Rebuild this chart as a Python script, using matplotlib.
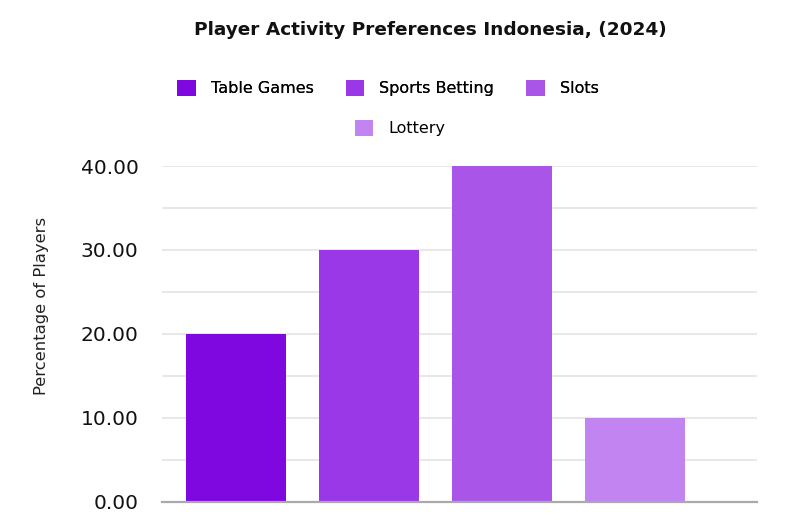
import matplotlib
matplotlib.use('Agg')
import matplotlib.pyplot as plt
from matplotlib.patches import Patch
from matplotlib.ticker import MultipleLocator, FormatStrFormatter

# data
categories = ['Table Games', 'Sports Betting', 'Slots', 'Lottery']
values = [20, 30, 40, 10]
colors = ['#7f08e0', '#9a37e7', '#a855e8', '#c184f1']

plt.rcParams['font.family'] = ['DejaVu Sans']

fig = plt.figure(figsize=(8, 5.23), dpi=100)
ax = fig.add_axes([0.2025, 0.0402, 0.744, 0.6424])

x = list(range(len(categories)))
ax.bar(x, values, width=0.75, color=colors, zorder=3)

ax.set_xlim(-0.556, 3.917)
ax.set_ylim(0, 40)
ax.yaxis.set_major_locator(MultipleLocator(10))
ax.yaxis.set_minor_locator(MultipleLocator(5))
ax.yaxis.set_major_formatter(FormatStrFormatter('%.2f'))
ax.grid(axis='y', which='both', color='#e8e8e8', linewidth=1.5, zorder=0)
ax.set_xticks([])
ax.tick_params(axis='y', which='both', length=0, pad=17, labelsize=14.5, labelcolor='#111111')

for s in ['top', 'right', 'left']:
    ax.spines[s].set_visible(False)
ax.spines['bottom'].set_color('#aaaaaa')
ax.spines['bottom'].set_linewidth(1.6)
ax.spines['bottom'].set_zorder(4)

ax.set_ylabel('Percentage of Players', fontsize=11.8, color='#222222')
ax.yaxis.set_label_coords(-0.19, 0.583)

fig.text(0.5375, 0.943, 'Player Activity Preferences Indonesia, (2024)',
         ha='center', va='center', fontsize=13.3, fontweight='bold', color='#111111')

handles = [Patch(facecolor=c, edgecolor='none') for c in colors]
leg1 = fig.legend(handles[:3], categories[:3], loc='center', bbox_to_anchor=(0.485, 0.832),
                  ncol=3, frameon=False, fontsize=11.5, handlelength=1.15, handleheight=1.15,
                  handletextpad=0.95, columnspacing=2.0)
fig.add_artist(leg1)
fig.legend(handles[3:], categories[3:], loc='center', bbox_to_anchor=(0.5, 0.755),
           frameon=False, fontsize=11.5, handlelength=1.15, handleheight=1.15,
           handletextpad=0.95)

fig.savefig('out.png', dpi=100)
